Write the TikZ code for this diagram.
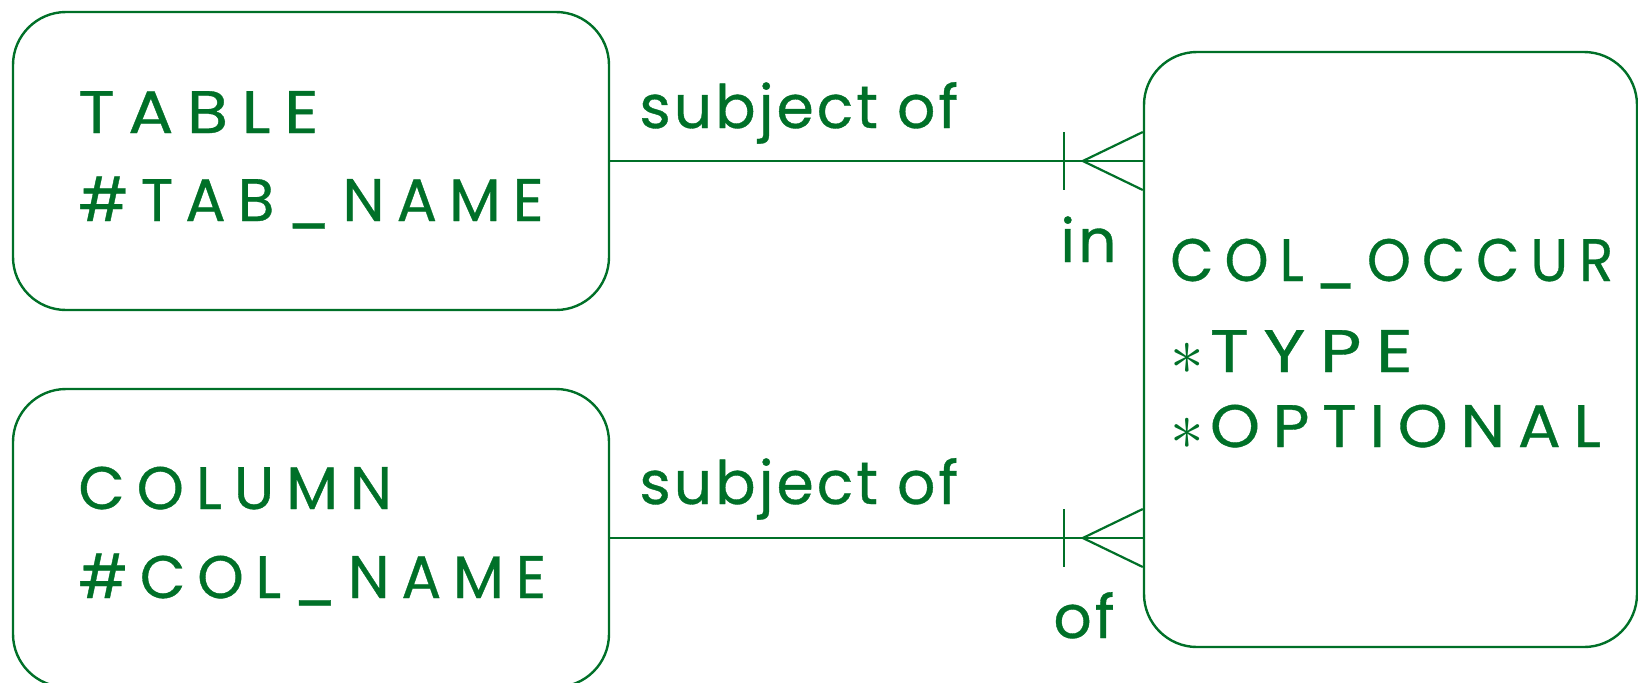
\documentclass[tikz,border=0pt]{standalone}
\usepackage{fontspec}
\setmainfont{Poppins}[LetterSpace=20,FakeBold=0.6]
\newfontfamily\lowfont{Poppins}[LetterSpace=5,FakeBold=0.6]
\usetikzlibrary{calc}
\definecolor{erg}{RGB}{0,112,40}
\newcommand{\xs}[2]{\scalebox{#1}[1]{#2}}
\newcommand{\astx}{\raisebox{-1pt}{\scalebox{1.35}{$\ast$}}\hspace{3pt}}
\tikzset{
  entity/.style={draw=erg, line width=1.2pt, rounded corners=26.5pt, inner sep=0pt},
  txt/.style={anchor=base west, inner sep=0pt, text=erg, font=\fontsize{30}{36}\selectfont},
  lbl/.style={txt, font=\fontsize{30}{36}\lowfont},
  rel/.style={draw=erg, line width=1.1pt},
}
\begin{document}
\begin{tikzpicture}[x=0.5pt,y=-0.5pt]
\useasboundingbox (0,0) rectangle (1638,682);
% entities
\node[entity, minimum width=298pt, minimum height=149pt] (tab) at (311,161) {};
\node[entity, minimum width=298pt, minimum height=149pt] (col) at (311,538) {};
\node[entity, minimum width=246.5pt, minimum height=297.5pt] (occ) at (1390.5,349.5) {};
% entity texts
\node[txt] (t1) at (78,133) {\xs{1.12}{TABLE}};
\node[txt] (t2) at (78,221) {\#TAB\_NAME};
\node[txt] (c1) at (78,509) {COLUMN};
\node[txt] (c2) at (78,598) {\xs{0.985}{\#COL\_NAME}};
\node[txt] (o1) at (1170,281) {\xs{0.93}{COL\_OCCUR}};
\node[txt] (o2) at (1170,372) {\astx\xs{1.2}{TYPE}};
\node[txt] (o3) at (1170,447) {\astx\xs{1.06}{OPTIONAL}};
% relationships
\coordinate (e1) at (tab.east -| occ.west);
\coordinate (e2) at (col.east -| occ.west);
\draw[rel] (tab.east) -- (e1);
\draw[rel] (col.east) -- (e2);
\foreach \e in {e1,e2}{
  \draw[rel] ($(\e)+(-79,-29)$) -- ($(\e)+(-79,29)$);
  \draw[rel] ($(\e)+(0,-29)$) -- ($(\e)+(-60,0)$) -- ($(\e)+(0,29)$);
}
\node[lbl] (l1) at (639,128) {subject of};
\node[lbl] (l2) at (639,504) {subject of};
\node[lbl] (l3) at (1060,262) {in};
\node[lbl] (l4) at (1053,638) {of};
\end{tikzpicture}
\end{document}
